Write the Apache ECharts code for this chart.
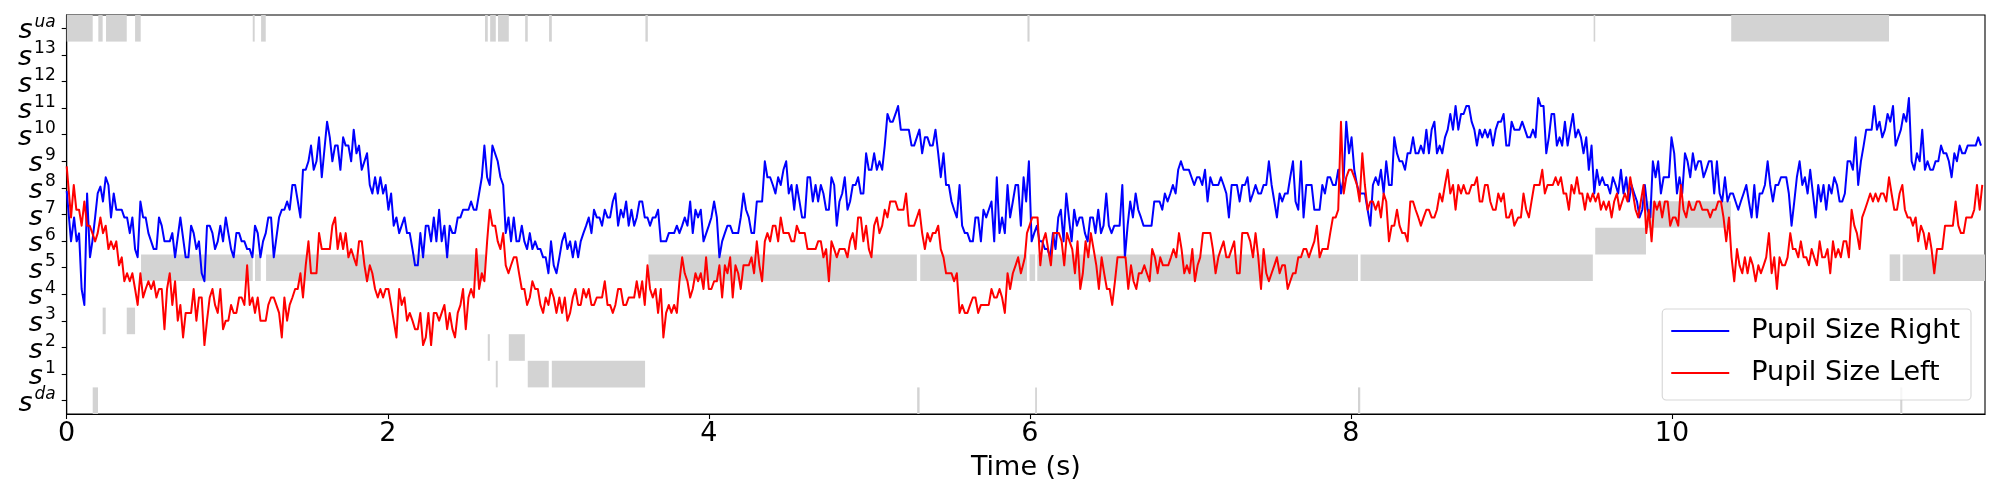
<!DOCTYPE html>
<html><head><meta charset="utf-8">
<script src="https://cdn.jsdelivr.net/npm/echarts@6/dist/echarts.min.js"></script>
<style>html,body{margin:0;padding:0;background:#fff}#c{width:2000px;height:500px}</style>
</head><body><div id="c"></div>
<script>
// y-axis states (index 0 = s^da ... 14 = s^ua)
const stateLabels = ['da','1','2','3','4','5','6','7','8','9','10','11','12','13','ua'];
const xTickValues = [0, 2, 4, 6, 8, 10];
const seriesNames = ['Pupil Size Right', 'Pupil Size Left'];

// [start (s), end (s), state index]
const stateSegments = [
[0.000,0.162,14],[0.162,0.195,0],[0.197,0.224,14],[0.224,0.243,3],[0.245,0.374,14],[0.374,0.426,3],
[0.426,0.461,14],[0.463,1.159,5],[1.159,1.171,14],[1.173,1.209,5],[1.211,1.240,14],[1.242,2.606,5],
[2.606,2.623,14],[2.623,2.636,2],[2.638,2.673,14],[2.673,2.685,1],[2.687,2.754,14],[2.754,2.854,2],
[2.856,2.872,14],[2.872,3.003,1],[3.005,3.022,14],[3.022,3.603,1],[3.605,3.620,14],[3.624,5.296,5],
[5.298,5.313,0],[5.317,5.982,5],[5.985,5.998,14],[5.998,6.033,5],[6.033,6.044,0],[6.046,8.044,5],
[8.044,8.058,0],[8.060,9.507,5],[9.512,9.522,14],[9.522,9.838,6],[9.838,10.367,7],[10.369,11.352,14],
[11.356,11.422,5],[11.422,11.435,0],[11.437,11.95,5]
];

const pupilRight = [
[0.000,7.89],[0.027,5.99],[0.046,6.89],[0.062,5.99],[0.077,6.29],[0.093,4.20],[0.110,3.60],[0.127,7.79],[0.145,5.39],[0.160,5.99],[0.177,6.89],[0.193,7.79],[0.210,8.05],[0.226,7.49],[0.243,8.40],[0.260,8.11],[0.276,6.89],[0.293,7.79],[0.309,7.18],[0.343,7.18],[0.359,6.89],[0.376,6.89],[0.393,6.30],[0.409,6.89],[0.426,5.70],[0.442,5.39],[0.459,7.49],[0.476,6.89],[0.492,6.89],[0.509,6.30],[0.542,5.70],[0.559,5.70],[0.575,6.89],[0.592,6.58],[0.609,5.99],[0.642,5.99],[0.658,6.30],[0.675,5.39],[0.708,6.89],[0.741,5.39],[0.758,5.39],[0.775,6.58],[0.791,6.30],[0.808,5.70],[0.824,5.99],[0.841,4.79],[0.858,4.49],[0.874,6.58],[0.891,6.58],[0.908,6.30],[0.924,5.70],[0.941,5.99],[0.957,6.58],[0.974,5.99],[0.991,6.89],[1.007,6.30],[1.024,5.70],[1.040,5.39],[1.057,6.30],[1.074,6.30],[1.090,5.99],[1.107,5.99],[1.124,5.70],[1.140,5.70],[1.157,5.39],[1.173,6.58],[1.190,6.30],[1.207,5.39],[1.223,5.99],[1.240,6.30],[1.256,6.89],[1.273,6.89],[1.290,5.39],[1.323,6.89],[1.340,7.18],[1.356,7.18],[1.373,7.49],[1.389,7.18],[1.406,8.11],[1.423,8.11],[1.456,6.89],[1.472,8.68],[1.489,8.68],[1.506,9.00],[1.522,9.59],[1.539,8.68],[1.556,9.00],[1.572,9.90],[1.589,8.40],[1.622,10.49],[1.639,9.90],[1.655,9.00],[1.672,9.59],[1.688,9.59],[1.705,8.68],[1.722,9.90],[1.738,9.59],[1.755,9.59],[1.772,9.00],[1.788,10.19],[1.805,9.30],[1.821,9.59],[1.838,8.68],[1.871,9.30],[1.888,8.11],[1.904,7.79],[1.921,8.40],[1.938,7.79],[1.954,8.40],[1.971,7.79],[1.987,8.11],[2.004,7.18],[2.021,7.79],[2.037,6.58],[2.054,6.89],[2.071,6.30],[2.104,6.89],[2.120,6.30],[2.137,6.30],[2.154,5.70],[2.170,5.09],[2.187,5.09],[2.203,6.30],[2.220,5.39],[2.237,6.58],[2.253,6.58],[2.270,5.99],[2.287,6.89],[2.303,5.99],[2.320,7.18],[2.336,5.99],[2.353,6.58],[2.370,5.39],[2.386,6.58],[2.403,6.30],[2.419,6.30],[2.436,6.89],[2.453,6.89],[2.469,7.18],[2.503,7.18],[2.519,7.49],[2.536,7.18],[2.552,7.18],[2.569,7.79],[2.586,8.40],[2.602,9.59],[2.619,8.40],[2.635,8.11],[2.652,9.59],[2.685,9.00],[2.702,8.40],[2.719,8.11],[2.735,6.30],[2.752,6.89],[2.768,5.99],[2.785,6.89],[2.802,5.99],[2.818,5.99],[2.835,6.58],[2.851,5.99],[2.868,5.70],[2.885,6.30],[2.901,5.70],[2.918,5.99],[2.935,5.70],[2.951,5.70],[2.968,5.39],[2.984,5.39],[3.001,4.79],[3.017,5.99],[3.034,5.09],[3.051,4.79],
[3.069,5.39],[3.086,5.99],[3.103,6.30],[3.119,5.70],[3.136,5.99],[3.153,5.39],[3.169,5.99],[3.186,5.39],[3.202,5.99],[3.219,6.30],[3.236,6.58],[3.252,6.89],[3.269,6.30],[3.285,7.18],[3.302,6.89],[3.319,6.89],[3.335,6.58],[3.352,7.18],[3.369,6.89],[3.385,6.89],[3.402,7.49],[3.418,7.79],[3.435,6.58],[3.452,7.18],[3.468,6.89],[3.485,7.49],[3.501,6.58],[3.518,7.18],[3.535,6.58],[3.551,6.89],[3.568,7.49],[3.585,7.49],[3.601,6.89],[3.618,6.89],[3.634,6.58],[3.651,6.89],[3.668,6.89],[3.684,7.18],[3.701,5.99],[3.734,5.99],[3.751,6.30],[3.784,6.30],[3.801,6.58],[3.817,6.30],[3.834,6.58],[3.850,6.89],[3.867,6.58],[3.884,7.49],[3.900,6.30],[3.917,7.18],[3.933,6.89],[3.950,7.18],[3.967,5.99],[4.000,6.58],[4.016,6.89],[4.033,7.49],[4.050,6.89],[4.066,5.39],[4.083,5.99],[4.100,6.30],[4.116,6.58],[4.133,6.58],[4.149,6.30],[4.183,6.30],[4.199,6.89],[4.216,7.79],[4.232,7.18],[4.249,6.89],[4.266,6.30],[4.282,6.30],[4.299,7.49],[4.332,7.49],[4.349,9.00],[4.365,8.40],[4.382,8.40],[4.399,8.11],[4.415,7.79],[4.432,8.40],[4.448,8.11],[4.465,8.68],[4.482,9.00],[4.498,7.79],[4.515,8.11],[4.532,7.18],[4.548,8.11],[4.565,7.49],[4.581,6.89],[4.598,6.89],[4.615,8.40],[4.631,8.40],[4.648,7.49],[4.665,8.11],[4.681,7.49],[4.698,8.11],[4.714,7.79],[4.731,7.18],[4.748,7.18],[4.764,8.40],[4.781,8.11],[4.797,6.58],[4.814,7.49],[4.831,7.79],[4.847,8.40],[4.864,7.18],[4.880,7.49],[4.897,8.11],[4.914,8.11],[4.930,8.40],[4.947,7.79],[4.963,7.79],[4.980,9.30],[4.997,8.68],[5.013,8.68],[5.030,9.30],[5.047,8.68],[5.063,9.00],[5.080,8.68],[5.096,9.59],[5.113,10.78],[5.130,10.49],[5.146,10.49],[5.163,10.78],[5.179,11.08],[5.196,10.19],[5.246,10.19],[5.263,9.59],[5.279,9.59],[5.312,10.19],[5.329,9.30],[5.346,9.90],[5.362,9.90],[5.379,9.59],[5.395,9.59],[5.412,10.19],[5.429,9.30],[5.445,8.40],[5.462,9.30],[5.478,8.11],[5.495,8.11],[5.512,7.49],[5.528,7.18],[5.545,6.89],[5.562,8.11],[5.578,6.58],[5.595,6.30],[5.611,6.30],[5.628,5.99],[5.645,5.99],[5.661,6.89],[5.678,6.89],[5.695,5.99],[5.711,7.18],[5.728,6.89],[5.744,7.18],[5.761,7.49],[5.778,5.99],[5.794,8.40],[5.811,6.30],[5.827,6.89],[5.844,6.30],[5.861,8.11],[5.877,6.89],[5.894,7.49],[5.911,8.11],[5.927,8.11],[5.944,6.58],
[5.961,8.40],[5.977,7.49],[5.994,9.00],[6.011,5.99],[6.027,6.30],[6.044,6.58],[6.060,5.99],[6.077,5.99],[6.094,5.70],[6.110,5.70],[6.127,5.39],[6.144,6.30],[6.160,5.70],[6.177,6.89],[6.193,7.18],[6.210,5.99],[6.227,7.79],[6.243,6.89],[6.260,5.99],[6.276,7.18],[6.293,6.58],[6.310,6.89],[6.326,6.89],[6.343,6.30],[6.360,5.99],[6.376,6.89],[6.393,6.89],[6.409,6.30],[6.426,7.18],[6.443,6.30],[6.459,6.58],[6.476,7.79],[6.492,6.58],[6.509,6.30],[6.526,6.58],[6.559,6.58],[6.576,8.11],[6.592,5.39],[6.609,6.58],[6.625,7.49],[6.642,6.89],[6.659,7.79],[6.675,7.18],[6.692,6.89],[6.708,6.58],[6.758,6.58],[6.775,7.49],[6.808,7.49],[6.825,7.18],[6.841,7.79],[6.858,7.49],[6.875,7.79],[6.891,8.11],[6.908,7.79],[6.924,8.68],[6.941,9.00],[6.958,8.68],[6.991,8.68],[7.007,8.40],[7.024,8.11],[7.041,8.40],[7.057,8.40],[7.074,8.11],[7.091,8.68],[7.107,7.49],[7.124,8.40],[7.140,8.11],[7.174,8.11],[7.190,8.40],[7.207,8.11],[7.224,7.79],[7.240,6.89],[7.257,8.11],[7.290,8.11],[7.307,7.49],[7.323,8.11],[7.340,8.11],[7.356,8.40],[7.373,7.49],[7.390,7.79],[7.406,8.11],[7.423,7.79],[7.440,7.79],[7.456,8.11],[7.473,8.11],[7.489,9.00],[7.506,8.11],[7.523,7.49],[7.539,6.89],[7.556,7.79],[7.572,7.49],[7.589,7.79],[7.606,7.79],[7.622,8.40],[7.639,9.00],[7.655,7.49],[7.672,7.18],[7.689,9.00],[7.705,6.89],[7.722,8.11],[7.755,8.11],[7.772,7.18],[7.805,7.18],[7.822,8.11],[7.838,7.79],[7.855,8.40],[7.871,8.40],[7.888,8.11],[7.905,8.11],[7.921,8.68],[7.938,7.79],[7.955,8.40],[7.971,10.49],[7.988,9.30],[8.004,9.90],[8.021,8.68],[8.038,8.11],[8.054,7.79],[8.087,7.79],[8.104,7.18],[8.121,6.58],[8.137,8.11],[8.154,8.40],[8.171,8.11],[8.187,8.68],[8.204,7.79],[8.220,9.00],[8.237,8.11],[8.254,8.11],[8.270,9.90],[8.287,9.30],[8.303,9.00],[8.320,9.00],[8.337,8.68],[8.353,9.30],[8.370,9.30],[8.387,9.90],[8.403,9.30],[8.420,9.30],[8.436,9.59],[8.453,9.30],[8.470,10.19],[8.486,9.30],[8.503,10.19],[8.520,10.49],[8.536,9.30],[8.553,9.59],[8.569,9.30],[8.586,9.90],[8.603,10.19],[8.619,10.78],[8.636,10.19],[8.652,11.08],[8.669,10.19],[8.686,10.78],[8.702,10.78],[8.719,11.08],[8.735,11.08],[8.752,10.49],[8.769,10.19],[8.785,9.59],[8.802,10.19],[8.818,9.90],[8.835,10.19],[8.852,9.90],[8.868,10.19],[8.885,9.59],[8.902,10.19],[8.918,10.49],[8.935,10.49],[8.951,10.78],[8.968,9.59],[8.985,9.59],[9.001,10.49],[9.018,10.19],
[9.050,10.19],[9.067,10.49],[9.084,10.19],[9.100,9.90],[9.117,9.90],[9.134,10.19],[9.150,9.90],[9.167,11.38],[9.183,11.08],[9.200,11.08],[9.217,9.30],[9.233,9.90],[9.250,10.78],[9.266,10.78],[9.283,9.59],[9.300,9.90],[9.316,9.59],[9.333,10.49],[9.350,9.59],[9.366,10.19],[9.383,10.78],[9.399,9.90],[9.416,10.19],[9.433,9.90],[9.449,9.30],[9.466,9.90],[9.482,8.68],[9.499,9.59],[9.516,7.79],[9.532,8.68],[9.549,8.11],[9.566,8.40],[9.582,8.11],[9.599,8.11],[9.615,7.79],[9.632,8.40],[9.649,8.11],[9.665,7.79],[9.682,8.68],[9.698,7.79],[9.715,8.40],[9.732,7.49],[9.748,8.11],[9.765,7.79],[9.782,7.49],[9.798,6.89],[9.815,7.18],[9.831,8.11],[9.848,7.18],[9.865,6.89],[9.881,9.00],[9.898,8.40],[9.914,9.00],[9.931,7.79],[9.948,8.40],[9.981,8.40],[9.997,9.90],[10.014,9.30],[10.031,7.79],[10.047,8.40],[10.064,7.79],[10.081,9.30],[10.097,9.00],[10.114,8.40],[10.130,9.30],[10.147,8.68],[10.164,9.00],[10.180,9.00],[10.197,8.40],[10.213,8.68],[10.230,9.00],[10.247,9.00],[10.263,7.79],[10.280,9.00],[10.297,7.79],[10.313,7.49],[10.330,8.40],[10.346,7.49],[10.363,7.79],[10.380,7.79],[10.396,7.49],[10.413,7.18],[10.429,7.49],[10.446,7.79],[10.463,8.11],[10.479,7.49],[10.496,6.89],[10.513,8.11],[10.529,6.89],[10.546,7.79],[10.562,7.79],[10.579,8.11],[10.596,9.00],[10.612,8.11],[10.629,7.49],[10.645,8.11],[10.662,8.11],[10.679,8.40],[10.712,8.40],[10.728,7.79],[10.745,6.58],[10.762,7.49],[10.778,8.40],[10.795,9.00],[10.812,8.11],[10.828,8.40],[10.845,7.79],[10.861,8.68],[10.878,7.79],[10.895,6.89],[10.911,8.11],[10.928,7.49],[10.944,8.11],[10.961,7.18],[10.978,8.11],[10.994,7.79],[11.011,8.40],[11.028,8.11],[11.044,7.49],[11.061,7.49],[11.077,7.79],[11.094,9.00],[11.111,9.00],[11.127,8.68],[11.144,9.90],[11.160,8.11],[11.177,9.00],[11.194,9.59],[11.210,10.19],[11.244,10.19],[11.260,11.08],[11.277,10.19],[11.293,10.49],[11.310,9.90],[11.327,10.19],[11.343,10.78],[11.360,10.49],[11.377,11.08],[11.393,9.59],[11.410,9.90],[11.426,10.19],[11.443,10.78],[11.460,10.49],[11.476,11.38],[11.493,9.00],[11.509,8.68],[11.526,9.30],[11.543,9.00],[11.559,10.19],[11.576,8.68],[11.592,9.00],[11.609,8.68],[11.626,8.68],[11.642,9.00],[11.659,9.00],[11.676,9.59],[11.692,9.30],[11.709,9.30],[11.725,9.00],[11.742,8.40],[11.759,9.30],[11.775,9.00],[11.792,9.59],[11.808,9.30],[11.825,9.30],[11.842,9.59],[11.875,9.59],[11.892,9.59],[11.908,9.90],[11.925,9.59]
];

const pupilLeft = [
[0.000,8.81],[0.027,6.89],[0.044,8.11],[0.060,7.18],[0.077,7.18],[0.093,6.58],[0.110,7.49],[0.127,6.58],[0.143,6.58],[0.160,6.30],[0.177,5.99],[0.193,6.30],[0.210,6.89],[0.226,6.30],[0.243,6.58],[0.260,5.70],[0.276,5.99],[0.293,5.70],[0.309,5.99],[0.326,5.09],[0.343,5.39],[0.359,4.49],[0.376,4.79],[0.393,4.49],[0.409,4.79],[0.426,4.20],[0.442,3.60],[0.459,4.79],[0.476,3.88],[0.492,4.20],[0.509,4.49],[0.526,4.20],[0.542,4.49],[0.559,3.88],[0.575,4.20],[0.592,4.20],[0.609,2.69],[0.625,4.20],[0.642,4.79],[0.658,3.60],[0.675,4.49],[0.692,3.01],[0.708,3.60],[0.725,2.38],[0.741,3.30],[0.775,3.30],[0.791,4.20],[0.808,3.01],[0.824,3.88],[0.841,3.88],[0.858,2.09],[0.874,3.01],[0.891,3.88],[0.908,4.20],[0.924,3.60],[0.941,3.30],[0.957,4.20],[0.974,2.69],[0.991,3.01],[1.007,3.01],[1.024,3.60],[1.040,3.30],[1.057,3.30],[1.074,3.88],[1.090,3.88],[1.107,3.60],[1.124,5.09],[1.140,3.60],[1.157,3.88],[1.173,3.30],[1.190,3.88],[1.207,3.01],[1.240,3.01],[1.256,3.60],[1.273,3.88],[1.290,3.88],[1.306,3.60],[1.323,3.30],[1.340,2.38],[1.356,3.88],[1.373,3.01],[1.389,3.60],[1.406,3.88],[1.423,4.20],[1.439,4.20],[1.456,4.79],[1.472,3.88],[1.489,5.09],[1.506,5.99],[1.522,4.79],[1.556,4.79],[1.572,6.30],[1.589,5.70],[1.639,5.70],[1.655,6.58],[1.672,6.89],[1.688,5.70],[1.705,6.30],[1.722,5.70],[1.738,6.30],[1.755,5.39],[1.772,5.70],[1.788,5.39],[1.805,5.09],[1.821,5.99],[1.838,5.99],[1.855,5.09],[1.871,4.49],[1.888,5.09],[1.904,4.79],[1.921,4.20],[1.938,3.88],[1.954,4.20],[1.971,3.88],[1.987,4.20],[2.004,4.20],[2.021,3.60],[2.054,2.38],[2.071,4.20],[2.087,3.60],[2.104,3.88],[2.120,3.01],[2.137,3.30],[2.154,3.01],[2.170,2.69],[2.187,2.69],[2.203,3.30],[2.220,2.09],[2.237,2.38],[2.253,3.30],[2.270,2.09],[2.287,3.30],[2.303,3.30],[2.320,3.01],[2.336,3.30],[2.353,3.60],[2.370,2.69],[2.386,3.30],[2.403,2.69],[2.419,2.38],[2.436,3.30],[2.453,3.60],[2.469,4.20],[2.486,2.69],[2.503,3.88],[2.519,4.20],[2.536,3.88],[2.552,5.70],[2.569,4.20],[2.586,4.79],[2.602,4.49],[2.619,5.99],[2.635,7.18],[2.652,6.58],[2.669,6.58],[2.685,5.99],[2.702,5.70],[2.719,6.30],[2.735,5.09],[2.752,4.79],[2.768,5.09],[2.785,5.39],[2.802,5.39],[2.818,4.79],[2.835,4.20],[2.851,4.20],[2.868,3.60],[2.885,3.88],[2.901,4.49],[2.918,4.20],[2.935,4.20],[2.951,3.60],[2.968,3.30],[2.984,3.88],[3.001,3.60],[3.017,4.20],[3.034,3.88],[3.051,3.30],
[3.069,3.88],[3.086,3.30],[3.103,3.88],[3.119,3.01],[3.136,3.30],[3.153,3.88],[3.169,4.20],[3.186,3.60],[3.202,3.60],[3.219,4.20],[3.236,3.88],[3.252,4.20],[3.269,3.60],[3.285,3.60],[3.302,3.88],[3.335,3.88],[3.352,4.49],[3.369,3.60],[3.385,3.60],[3.402,3.30],[3.418,3.60],[3.435,4.20],[3.452,4.20],[3.468,3.60],[3.485,3.60],[3.501,3.88],[3.535,3.88],[3.551,4.49],[3.568,3.88],[3.585,4.49],[3.601,3.60],[3.618,5.09],[3.634,4.20],[3.651,3.88],[3.668,4.20],[3.684,3.30],[3.701,4.20],[3.717,2.38],[3.734,3.30],[3.751,3.60],[3.767,3.30],[3.784,3.60],[3.801,3.30],[3.817,4.49],[3.834,5.39],[3.850,4.79],[3.867,4.49],[3.884,3.88],[3.900,4.20],[3.917,4.79],[3.933,4.49],[3.950,4.79],[3.967,4.20],[3.983,5.39],[4.000,4.20],[4.016,4.20],[4.033,4.49],[4.050,4.49],[4.066,5.09],[4.083,3.88],[4.100,5.09],[4.116,4.79],[4.133,5.39],[4.149,3.88],[4.166,5.09],[4.183,4.79],[4.199,4.20],[4.216,5.09],[4.249,5.09],[4.266,5.39],[4.282,4.79],[4.299,5.99],[4.315,5.09],[4.332,4.49],[4.349,5.99],[4.365,6.30],[4.382,5.99],[4.399,6.58],[4.415,6.58],[4.432,5.99],[4.448,6.89],[4.465,6.30],[4.498,6.30],[4.515,5.99],[4.532,5.99],[4.548,6.58],[4.565,6.30],[4.598,6.30],[4.615,5.70],[4.665,5.70],[4.681,5.99],[4.698,5.99],[4.714,5.39],[4.731,5.70],[4.748,4.49],[4.764,5.99],[4.781,5.70],[4.797,5.39],[4.814,5.70],[4.847,5.70],[4.864,5.39],[4.880,5.99],[4.897,6.30],[4.914,5.70],[4.930,6.89],[4.947,6.89],[4.963,5.99],[4.980,6.58],[4.997,5.70],[5.013,5.39],[5.030,6.58],[5.047,6.89],[5.063,6.30],[5.080,6.58],[5.096,7.18],[5.113,6.89],[5.130,7.49],[5.163,7.49],[5.179,7.18],[5.213,7.18],[5.229,7.79],[5.246,6.58],[5.279,6.58],[5.312,7.18],[5.329,6.30],[5.346,5.70],[5.362,6.30],[5.379,5.99],[5.395,6.30],[5.412,6.30],[5.429,6.58],[5.445,5.70],[5.462,5.39],[5.478,4.79],[5.512,4.79],[5.528,4.49],[5.545,4.79],[5.562,3.30],[5.578,3.60],[5.595,3.30],[5.611,3.30],[5.628,3.60],[5.645,3.88],[5.661,3.88],[5.678,3.30],[5.695,3.60],[5.744,3.60],[5.761,4.20],[5.778,3.88],[5.794,3.88],[5.811,4.20],[5.827,3.88],[5.844,3.30],[5.861,4.79],[5.877,4.20],[5.894,4.79],[5.911,5.09],[5.927,5.39],[5.944,4.79],
[5.957,5.09],[5.969,5.39],[5.982,6.30],[5.998,6.58],[6.015,6.89],[6.048,6.89],[6.065,5.09],[6.081,5.99],[6.098,6.30],[6.114,5.70],[6.131,5.09],[6.148,6.30],[6.181,6.30],[6.198,5.99],[6.214,5.09],[6.231,6.30],[6.247,5.99],[6.264,5.70],[6.281,4.79],[6.297,5.99],[6.314,4.20],[6.330,4.79],[6.347,5.99],[6.364,5.39],[6.380,6.30],[6.397,5.70],[6.414,5.09],[6.430,4.20],[6.447,5.39],[6.463,4.79],[6.480,4.20],[6.497,4.20],[6.513,3.60],[6.530,4.49],[6.546,5.39],[6.596,5.39],[6.613,4.20],[6.630,5.09],[6.646,4.49],[6.663,4.20],[6.679,4.79],[6.696,4.79],[6.713,5.09],[6.729,4.79],[6.746,4.49],[6.762,5.70],[6.779,5.39],[6.796,4.79],[6.812,5.39],[6.829,5.09],[6.862,5.09],[6.879,5.39],[6.895,5.70],[6.912,5.39],[6.929,6.30],[6.945,5.70],[6.962,4.79],[6.978,5.09],[6.995,4.79],[7.012,5.70],[7.028,4.49],[7.045,5.09],[7.061,5.39],[7.078,6.30],[7.124,6.30],[7.140,5.70],[7.157,4.79],[7.174,5.39],[7.190,5.70],[7.207,5.99],[7.224,5.39],[7.240,5.39],[7.257,5.70],[7.273,5.99],[7.290,4.79],[7.307,4.79],[7.323,6.30],[7.356,6.30],[7.373,5.99],[7.390,5.39],[7.406,6.30],[7.423,5.39],[7.440,4.20],[7.456,5.70],[7.473,4.79],[7.489,4.49],[7.506,4.79],[7.523,5.09],[7.539,5.39],[7.556,4.79],[7.572,5.09],[7.589,5.09],[7.606,4.20],[7.622,4.49],[7.639,4.79],[7.655,4.79],[7.672,5.39],[7.689,5.39],[7.705,5.70],[7.722,5.70],[7.738,5.39],[7.755,5.70],[7.772,5.99],[7.788,6.58],[7.805,5.39],[7.822,5.70],[7.855,5.70],[7.871,6.30],[7.888,6.89],[7.905,6.89],[7.921,7.18],[7.938,10.49],[7.955,7.79],[7.971,8.40],[7.988,8.68],[8.004,8.68],[8.021,8.40],[8.038,8.11],[8.054,7.49],[8.071,9.30],[8.087,8.11],[8.104,7.18],[8.121,7.49],[8.137,7.49],[8.154,7.18],[8.171,7.49],[8.187,6.89],[8.204,7.79],[8.220,7.49],[8.237,5.99],[8.254,6.58],[8.270,6.58],[8.287,7.18],[8.303,6.58],[8.320,6.30],[8.337,6.30],[8.353,5.99],[8.370,7.49],[8.387,7.49],[8.403,7.18],[8.420,6.89],[8.436,6.58],[8.453,6.89],[8.470,7.18],[8.486,7.18],[8.503,6.89],[8.520,6.89],[8.536,7.18],[8.553,7.79],[8.569,7.49],[8.586,8.11],[8.603,8.68],[8.619,7.79],[8.636,8.11],[8.652,7.18],[8.669,8.11],[8.686,7.79],[8.702,8.11],[8.719,7.79],[8.735,7.79],[8.752,8.11],[8.769,8.11],[8.785,8.40],[8.802,7.49],[8.818,7.49],[8.835,8.11],[8.852,8.11],[8.868,7.49],[8.885,7.18],[8.902,7.18],[8.918,7.79],[8.935,7.49],[8.951,7.79],[8.968,6.89],[8.985,6.89],[9.001,7.18],[9.018,6.58],
[9.042,6.89],[9.059,6.89],[9.075,7.79],[9.092,7.18],[9.109,6.89],[9.125,7.49],[9.142,8.11],[9.158,8.11],[9.175,8.11],[9.192,8.68],[9.208,7.79],[9.225,8.11],[9.242,8.11],[9.258,8.11],[9.275,8.40],[9.291,8.11],[9.308,8.40],[9.325,7.79],[9.341,7.79],[9.358,7.18],[9.374,8.11],[9.391,7.79],[9.408,8.40],[9.424,7.79],[9.441,7.79],[9.458,7.18],[9.474,7.79],[9.491,7.49],[9.507,7.79],[9.524,7.49],[9.541,7.79],[9.557,7.18],[9.574,7.49],[9.590,7.18],[9.607,7.49],[9.624,6.89],[9.640,7.49],[9.657,7.79],[9.674,7.18],[9.690,7.49],[9.707,7.79],[9.723,7.49],[9.740,8.40],[9.757,7.79],[9.773,7.18],[9.790,6.89],[9.806,7.49],[9.823,8.11],[9.840,6.30],[9.856,7.18],[9.873,5.99],[9.890,7.49],[9.906,7.18],[9.923,7.49],[9.939,6.89],[9.956,7.49],[9.973,7.49],[9.989,6.58],[10.006,6.89],[10.022,6.89],[10.039,6.58],[10.056,8.11],[10.072,7.18],[10.089,6.89],[10.106,7.49],[10.122,7.18],[10.139,7.18],[10.155,7.49],[10.172,7.49],[10.189,7.18],[10.205,7.18],[10.222,7.18],[10.238,6.89],[10.255,7.18],[10.272,7.18],[10.288,7.49],[10.305,7.49],[10.321,6.89],[10.338,5.99],[10.355,6.89],[10.371,5.39],[10.388,4.49],[10.405,5.70],[10.421,5.09],[10.438,4.79],[10.454,5.39],[10.471,4.79],[10.488,5.39],[10.504,5.09],[10.521,4.49],[10.538,5.09],[10.554,4.79],[10.571,5.09],[10.587,5.39],[10.604,6.30],[10.621,4.79],[10.637,5.39],[10.654,4.20],[10.670,5.39],[10.687,5.09],[10.704,5.09],[10.720,5.39],[10.737,6.30],[10.753,5.70],[10.770,5.70],[10.787,5.39],[10.803,5.99],[10.820,5.39],[10.837,5.39],[10.853,5.09],[10.870,5.70],[10.886,5.39],[10.903,5.09],[10.920,5.99],[10.936,5.39],[10.953,5.39],[10.969,5.70],[10.986,4.79],[11.003,5.99],[11.019,5.39],[11.036,5.70],[11.052,5.39],[11.069,5.99],[11.086,5.99],[11.102,5.39],[11.119,7.18],[11.136,6.58],[11.152,6.30],[11.169,5.70],[11.185,6.89],[11.202,7.18],[11.219,7.49],[11.235,7.79],[11.252,7.49],[11.268,7.79],[11.285,7.49],[11.302,7.79],[11.318,7.79],[11.335,7.49],[11.352,8.40],[11.368,7.79],[11.385,7.18],[11.402,7.18],[11.418,7.79],[11.435,8.11],[11.451,7.18],[11.468,6.89],[11.485,6.89],[11.501,6.58],[11.518,6.89],[11.534,5.99],[11.551,6.58],[11.568,6.30],[11.584,5.70],[11.601,6.30],[11.617,5.70],[11.634,4.79],[11.651,5.70],[11.667,5.70],[11.684,5.70],[11.701,6.58],[11.717,6.58],[11.734,6.58],[11.750,6.58],[11.767,7.49],[11.784,6.58],[11.800,6.30],[11.817,6.30],[11.833,6.89],[11.850,6.89],[11.867,6.89],[11.883,7.18],[11.900,8.11],[11.917,7.18],[11.933,8.11]
];

const FONT = 'DejaVu Sans';
const chart = echarts.init(document.getElementById('c'), null, {renderer: 'canvas'});

chart.setOption({
  animation: false,
  backgroundColor: '#ffffff',
  grid: {left: 66.7, right: 15, top: 15, bottom: 86, show: true, borderColor: '#000', borderWidth: 1.1, backgroundColor: 'transparent'},
  xAxis: {
    type: 'value', min: 0, max: 11.95,
    name: 'Time (s)', nameLocation: 'middle', nameGap: 40,
    nameTextStyle: {fontFamily: FONT, fontSize: 27, color: '#000'},
    axisLine: {show: true, onZero: false, lineStyle: {color: '#000', width: 1.1}},
    axisTick: {show: true, customValues: xTickValues, length: 5, lineStyle: {color: '#000', width: 1.1}},
    axisLabel: {customValues: xTickValues, fontFamily: FONT, fontSize: 27, color: '#000', margin: 6, showMinLabel: true},
    splitLine: {show: false}
  },
  yAxis: [
    {
      type: 'value', min: -0.5, max: 14.5, position: 'left',
      axisLine: {show: true, onZero: false, lineStyle: {color: '#000', width: 1.1}},
      axisTick: {show: false}, axisLabel: {show: false}, splitLine: {show: false}
    },
    {
      type: 'category', data: stateLabels, position: 'left', boundaryGap: true,
      axisLine: {show: false, onZero: false},
      axisTick: {show: true, alignWithLabel: true, interval: 0, length: 5, lineStyle: {color: '#000', width: 1.1}},
      splitLine: {show: false},
      axisLabel: {
        interval: 0, margin: 11, lineHeight: 22,
        formatter: function (lab) {
          return '{s|s}{' + (/[a-z]/.test(lab) ? 'supi' : 'sup') + '|' + lab + '}';
        },
        rich: {
          s: {fontFamily: FONT, fontStyle: 'italic', fontSize: 27, lineHeight: 22, color: '#000', padding: [6, 0, 0, 0]},
          sup: {fontFamily: FONT, fontSize: 17, lineHeight: 22, color: '#000', padding: [0, 0, 12, 2]},
          supi: {fontFamily: FONT, fontStyle: 'italic', fontSize: 17, lineHeight: 22, color: '#000', padding: [0, 0, 12, 2]}
        }
      }
    }
  ],
  legend: {
    data: [{name: seriesNames[0], icon: 'rect'}, {name: seriesNames[1], icon: 'rect'}],
    orient: 'vertical', right: 29, top: 309,
    itemWidth: 58, itemHeight: 2, itemGap: 10,
    backgroundColor: 'rgba(255,255,255,0.8)', borderColor: 'rgba(204,204,204,0.8)', borderWidth: 1.1, borderRadius: 4,
    padding: [6, 11, 11, 9],
    formatter: function (name) { return '{g| }{t|' + name + '}'; },
    textStyle: {
      fontFamily: FONT, fontSize: 27, color: '#000', lineHeight: 32,
      rich: {g: {width: 17, fontSize: 27, lineHeight: 32}, t: {fontFamily: FONT, fontSize: 27, lineHeight: 32, color: '#000'}}
    }
  },
  series: [
    {
      type: 'custom', name: 'states', z: 1, silent: true, clip: true, yAxisIndex: 0,
      encode: {x: [0, 1], y: 2},
      data: stateSegments,
      renderItem: function (params, api) {
        const a = api.coord([api.value(0), api.value(2) + 0.5]);
        const b = api.coord([api.value(1), api.value(2) - 0.5]);
        return {type: 'rect', shape: {x: a[0], y: a[1], width: b[0] - a[0], height: b[1] - a[1]}, style: {fill: '#d3d3d3'}};
      }
    },
    {
      type: 'line', name: seriesNames[0], data: pupilRight, z: 3, yAxisIndex: 0,
      symbol: 'none', showSymbol: false, color: '#0000ff',
      lineStyle: {color: '#0000ff', width: 2, join: 'round'}
    },
    {
      type: 'line', name: seriesNames[1], data: pupilLeft, z: 4, yAxisIndex: 0,
      symbol: 'none', showSymbol: false, color: '#ff0000',
      lineStyle: {color: '#ff0000', width: 2, join: 'round'}
    }
  ]
});
</script>
</body></html>
